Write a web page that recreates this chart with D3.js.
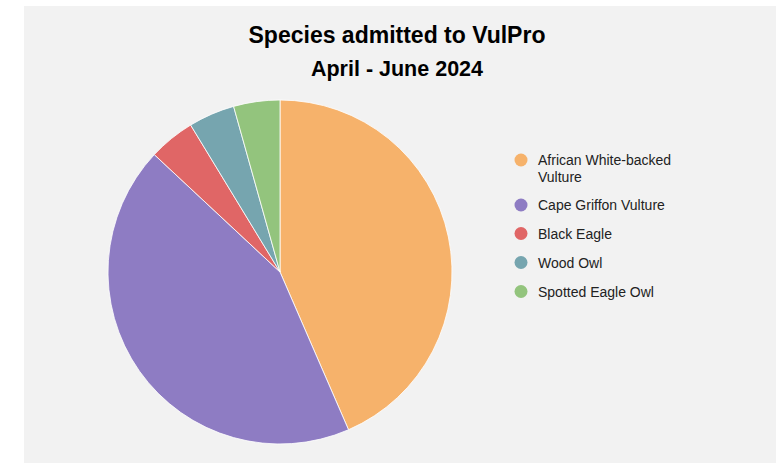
<!DOCTYPE html>
<html>
<head>
<meta charset="utf-8">
<script src="https://cdn.jsdelivr.net/npm/d3@7"></script>
<style>
  html, body { margin: 0; padding: 0; background: #ffffff; }
  svg { display: block; }
  text { font-family: "Liberation Sans", Arial, Helvetica, sans-serif; }
</style>
</head>
<body>
<svg id="chart" width="776" height="463"></svg>
<script>
const titleText = "Species admitted to VulPro";
const subtitleText = "April - June 2024";
const species = ["African White-backed Vulture", "Cape Griffon Vulture", "Black Eagle", "Wood Owl", "Spotted Eagle Owl"];
const legendLines = [["African White-backed", "Vulture"], ["Cape Griffon Vulture"], ["Black Eagle"], ["Wood Owl"], ["Spotted Eagle Owl"]];
const admitted = [10, 10, 1, 1, 1];
const colors = ["#f6b26b", "#8e7cc3", "#e06666", "#76a5af", "#93c47d"];

const svg = d3.select("#chart");

svg.append("rect")
  .attr("x", 24).attr("y", 6)
  .attr("width", 776 - 24).attr("height", 463 - 6)
  .attr("fill", "#f2f2f2");

svg.append("text")
  .attr("x", 397).attr("y", 43)
  .attr("text-anchor", "middle")
  .attr("font-size", 23).attr("font-weight", "bold")
  .attr("fill", "#000")
  .text(titleText);

svg.append("text")
  .attr("x", 397).attr("y", 76)
  .attr("text-anchor", "middle")
  .attr("font-size", 21.5).attr("font-weight", "bold")
  .attr("fill", "#000")
  .text(subtitleText);

const color = d3.scaleOrdinal().domain(species).range(colors);
const data = species.map((s, i) => ({ name: s, value: admitted[i] }));

const pie = d3.pie().value(d => d.value).sort(null);
const arc = d3.arc().innerRadius(0).outerRadius(172);

const g = svg.append("g").attr("transform", "translate(280,272)");
g.selectAll("path")
  .data(pie(data))
  .join("path")
  .attr("d", arc)
  .attr("fill", d => color(d.data.name))
  .attr("stroke", "#ffffff")
  .attr("stroke-opacity", 0.8)
  .attr("stroke-width", 1);

const legendY = [160, 205, 233.5, 262.5, 291.5];
const leg = svg.append("g");
species.forEach((s, i) => {
  const item = leg.append("g").attr("transform", `translate(0,${legendY[i]})`);
  item.append("circle")
    .attr("cx", 521).attr("cy", 0).attr("r", 6.5)
    .attr("fill", color(s));
  const t = item.append("text")
    .attr("x", 538).attr("y", 5)
    .attr("font-size", 14)
    .attr("fill", "#222");
  legendLines[i].forEach((line, j) => {
    t.append("tspan")
      .attr("x", 538)
      .attr("dy", j === 0 ? 0 : 16.5)
      .text(line);
  });
});
</script>
</body>
</html>
